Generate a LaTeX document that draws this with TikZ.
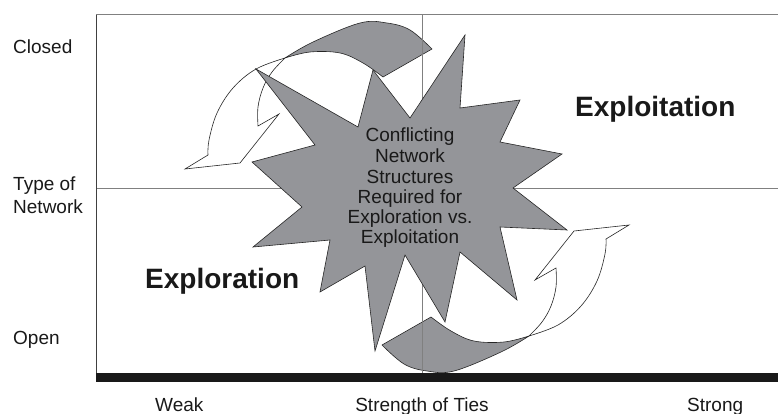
\documentclass[tikz,border=0pt]{standalone}
\usepackage{fontspec}
\setmainfont{Liberation Sans}
\definecolor{starg}{RGB}{148,149,153}
\newcommand\twistarrow{%
  % gray (back) side of the ribbon
  \path[graypart] plot[smooth,tension=0.6] coordinates {(285,58) (313,42) (360,23) (387,23) (410,30) (432,49)}
     -- plot[smooth,tension=0.6] coordinates {(383,77) (363,63) (340,53) (310,52) (285,58)} -- cycle;
  % white (front) side with the arrowhead
  \path[whitepart] plot[smooth,tension=0.6] coordinates {(285,58) (256,69) (233,88) (217,113) (209,140) (208,155)}
     -- (185,169) -- (240,163) -- (279,114) -- (258,126)
     -- plot[smooth,tension=0.6] coordinates {(258,126) (258,107) (263,88) (272,72) (285,58)} -- cycle;
}
\begin{document}
\begin{tikzpicture}[x=1pt,y=-1pt,
  graypart/.style={fill=starg,draw=black!85,line width=0.6pt},
  whitepart/.style={fill=white,draw=black!85,line width=0.6pt},
  gridline/.style={draw=black!50,line width=1pt},
  border/.style={draw=black!75,line width=1pt},
  starshape/.style={fill=starg,draw=black!85,line width=0.6pt,line join=miter},
  lab/.style={inner sep=0pt,font=\fontsize{19}{20}\selectfont,text=black!90},
  big/.style={inner sep=0pt,font=\fontsize{28}{30}\bfseries\selectfont,text=black!90}]
\useasboundingbox (0,0) rectangle (778,414);

% ribbon arrows
\twistarrow
\begin{scope}[rotate around={180:(407,197)}]
  \twistarrow
\end{scope}

% frame and grid
\draw[gridline] (96,15) -- (778,15);
\draw[gridline] (96,188) -- (778,188);
\draw[gridline] (422,15) -- (422,373);
\draw[border] (96,15) -- (96,373);
\fill[black!90] (96,373) rectangle (778,382);

% star
\path[starshape] (256,69) -- (358,127) -- (373,70) -- (410,118) -- (465,35) -- (460,108)
  -- (520,100) -- (500,142) -- (562,154) -- (513,188) -- (567,230) -- (500,227)
  -- (517,300) -- (460,252) -- (445,322) -- (405,255) -- (375,351) -- (365,266)
  -- (320,292) -- (330,240) -- (253,247) -- (302,207) -- (252,162) -- (315,145) -- cycle;

% star text
\node[lab,anchor=base] (s1) at (410,142) {Conflicting};
\node[lab,anchor=base] (s2) at (410,163) {Network};
\node[lab,anchor=base] (s3) at (410,183) {Structures};
\node[lab,anchor=base] (s4) at (410,203) {Required for};
\node[lab,anchor=base] (s5) at (410,223) {Exploration vs.};
\node[lab,anchor=base] (s6) at (410,243) {Exploitation};

% axis labels
\node[lab,anchor=base west] (closed) at (13,54) {Closed};
\node[lab,anchor=base west] (type1) at (13,190) {Type of};
\node[lab,anchor=base west] (type2) at (13,213) {Network};
\node[lab,anchor=base west] (open) at (13,344) {Open};
\node[lab,anchor=base west] (weak) at (155,411) {Weak};
\node[lab,anchor=base] (ties) at (422,411) {Strength of Ties};
\node[lab,anchor=base west] (strong) at (687,411) {Strong};

% region labels
\node[big,anchor=base west] (exploit) at (575,117) {Exploitation};
\node[big,anchor=base west] (explore) at (145,288) {Exploration};
\end{tikzpicture}
\end{document}
